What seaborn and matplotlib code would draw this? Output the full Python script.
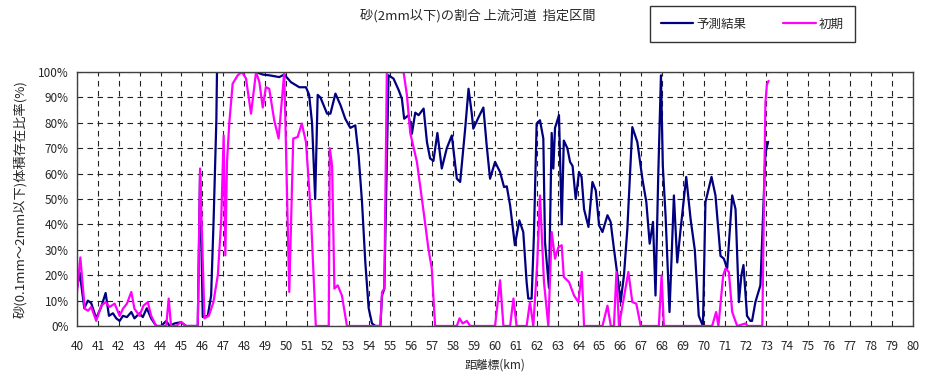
import seaborn as sns
import pandas as pd
import matplotlib.pyplot as plt

# 予測結果 (navy)
pred_km = [40.0, 40.13, 40.35, 40.52, 40.68, 40.92, 41.16, 41.37, 41.53, 41.72, 41.88, 42.04,
           42.2, 42.39, 42.6, 42.75, 42.99, 43.15, 43.34, 43.55, 43.79, 44.03, 44.27, 44.43,
           44.67, 44.98, 45.22, 45.78, 45.89, 46.02, 46.26, 46.42, 46.54, 46.67, 46.7, 48.57,
           48.89, 49.2, 49.68, 49.92, 50.24, 50.64, 50.96, 51.11, 51.25, 51.4, 51.52, 51.65,
           51.97, 52.13, 52.37, 52.61, 52.84, 53.08, 53.32, 53.48, 53.64, 53.8, 53.96, 54.12,
           54.28, 54.52, 54.6, 54.71, 54.91, 55.15, 55.39, 55.55, 55.66, 55.87, 56.03, 56.19,
           56.35, 56.59, 56.75, 56.9, 57.06, 57.25, 57.46, 57.7, 57.94, 58.18, 58.34, 58.58,
           58.74, 58.89, 58.97, 59.21, 59.45, 59.61, 59.77, 60.01, 60.25, 60.44, 60.57, 60.73,
           60.96, 61.17, 61.36, 61.52, 61.6, 61.76, 61.87, 62.0, 62.16, 62.32, 62.4, 62.59,
           62.72, 62.8, 62.88, 63.07, 63.2, 63.3, 63.47, 63.6, 63.72, 63.87, 64.03, 64.15,
           64.27, 64.48, 64.67, 64.83, 64.99, 65.15, 65.39, 65.54, 65.7, 65.91, 66.02, 66.18,
           66.34, 66.58, 66.82, 67.06, 67.25, 67.41, 67.57, 67.69, 67.82, 67.95, 68.04, 68.17,
           68.36, 68.57, 68.73, 68.89, 69.16, 69.37, 69.57, 69.76, 69.96, 70.08, 70.37, 70.56,
           70.8, 70.96, 71.12, 71.36, 71.52, 71.68, 71.8, 71.9, 72.07, 72.23, 72.31, 72.47,
           72.71, 72.95, 73.08]
pred_pct = [15, 21, 7, 10, 9, 3, 7.5, 13, 4, 5, 3, 2,
            4, 3.5, 5.5, 3, 5, 3.5, 7, 3, 0, 0, 2, 0,
            1, 1.5, 0, 0, 60, 3.5, 4, 12, 42, 81, 100, 100,
            99, 98.7, 98, 99, 96, 94, 94, 91, 80, 50, 91, 90,
            83.6, 83.6, 91.5, 87, 81.6, 78, 79, 67, 49, 25, 7, 1,
            0, 0, 12, 14.7, 98.7, 97.4, 93, 89.5, 81.6, 83, 75.7, 84,
            83, 85.6, 72.4, 66, 65, 76, 62, 70, 75, 58, 56.7, 77.7,
            93.4, 84, 77.7, 82, 86, 71, 58, 64.6, 60.6, 54.7, 55, 47.5,
            31.8, 41.6, 37, 17.3, 10.8, 10.8, 35.7, 79.7, 81, 73.8, 33, 15,
            76, 62, 78, 83, 40, 73, 70, 64.6, 63, 50, 60.6, 58.7,
            46, 39, 56.7, 53.4, 39.6, 37, 43.6, 41, 30.4, 17.3, 9.4, 20,
            38, 78.3, 72.4, 58, 48.8, 32.4, 41, 12, 59, 98.7, 63, 43.6,
            5.5, 51.4, 25, 38, 58.7, 42, 30, 4, 0, 48.8, 58.7, 51.4,
            27.6, 26.5, 22.6, 51.4, 46, 9.4, 20, 24, 4, 2, 2, 9.4,
            16, 68, 72.5]

# 初期 (magenta)
init_km = [40.0, 40.16, 40.37, 40.53, 40.68, 40.92, 41.16, 41.37, 41.56, 41.8, 42.04, 42.2,
           42.39, 42.6, 42.75, 42.99, 43.18, 43.39, 43.55, 43.79, 44.27, 44.39, 44.5, 44.75,
           44.98, 45.22, 45.78, 45.89, 46.1, 46.31, 46.53, 46.74, 46.9, 47.02, 47.1, 47.18,
           47.29, 47.45, 47.69, 47.9, 48.09, 48.33, 48.57, 48.73, 48.89, 49.04, 49.2, 49.44,
           49.65, 49.92, 50.16, 50.35, 50.56, 50.76, 50.96, 51.19, 51.43, 52.05, 52.1, 52.21,
           52.32, 52.48, 52.68, 52.92, 54.52, 54.6, 54.71, 54.83, 55.63, 55.79, 55.95, 56.27,
           56.59, 56.82, 56.98, 57.14, 58.18, 58.31, 58.46, 58.66, 58.82, 60.01, 60.25, 60.41,
           60.73, 60.89, 61.04, 61.52, 61.68, 61.84, 62.03, 62.16, 62.35, 62.56, 62.72, 62.88,
           63.04, 63.2, 63.3, 63.55, 63.79, 64.0, 64.16, 64.27, 65.15, 65.39, 65.55, 65.7,
           65.82, 65.94, 66.39, 66.58, 66.77, 66.98, 67.85, 67.98, 68.09, 70.4, 70.59, 70.7,
           70.93, 71.04, 71.2, 71.36, 71.6, 72.0, 72.1, 72.8, 72.95, 73.02, 73.1]
init_pct = [13.4, 27, 6.8, 6, 7.5, 2, 8, 9.4, 7.5, 8.8, 4, 6.8,
            8.8, 13.4, 6.8, 4, 8, 9.4, 4, 0, 0, 10.8, 0, 0,
            1.6, 0, 0, 62, 3, 4, 9.4, 20, 41, 75, 27.8, 64.6,
            80, 95.4, 98.7, 100, 97.4, 83.6, 100, 96, 86, 94, 93.4, 81,
            73.8, 100, 13.4, 73.8, 74.4, 79.7, 72.4, 44.9, 0, 0, 70, 63,
            14.7, 16, 12, 0, 0, 13.4, 14.7, 100, 100, 91, 76, 64.6,
            45, 30.4, 22.6, 0, 0, 3, 1, 2, 0, 0, 18, 0,
            0, 10.8, 0, 0, 9.4, 0, 25, 51.4, 17.3, 0, 37, 26.5,
            31, 31.8, 19.3, 17.3, 12, 9.4, 21.3, 0, 0, 8, 0, 0,
            21.3, 0, 21.3, 9.4, 8.8, 0, 0, 20, 0, 0, 5.5, 0,
            20, 22.6, 21.3, 5.5, 0, 1, 0, 0, 88, 95, 96.5]

x_ticks = list(range(40, 81))
y_ticks = list(range(0, 101, 10))

sns.set_style('white')
plt.rcParams['font.family'] = ['Noto Sans CJK JP', 'DejaVu Sans']

df_pred = pd.DataFrame({'km': pred_km, 'pct': pred_pct})
df_init = pd.DataFrame({'km': init_km, 'pct': init_pct})

fig = plt.figure(figsize=(9.39, 3.75), dpi=100)
ax = fig.add_axes([0.082, 0.1307, 0.89, 0.6773])

sns.lineplot(data=df_pred, x='km', y='pct', ax=ax, color='#000080', linewidth=1.6,
             estimator=None, sort=False, label='予測結果')
sns.lineplot(data=df_init, x='km', y='pct', ax=ax, color='#FF00FF', linewidth=1.6,
             estimator=None, sort=False, label='初期')

ax.set_xlim(40, 80)
ax.set_ylim(0, 100)
ax.set_xticks(x_ticks)
ax.set_xticklabels([str(t) for t in x_ticks], fontsize=8.5)
ax.set_yticks(y_ticks)
ax.set_yticklabels([f'{t}%' for t in y_ticks], fontsize=8.5)
ax.tick_params(axis='x', length=0, pad=10)
ax.tick_params(axis='y', length=0, pad=6)
ax.grid(True, color='#222222', linestyle=(0, (5, 4)), linewidth=0.8)
for s in ax.spines.values():
    s.set_color('#404040')
    s.set_linewidth(1)

ax.set_xlabel('距離標(km)', fontsize=8.5, labelpad=4)
ax.set_ylabel('砂(0.1mm～2mm以下)体積存在比率(%)', fontsize=9.5, labelpad=8)

fig.text(0.509, 0.955, '砂(2mm以下)の割合 上流河道  指定区間', ha='center', va='center', fontsize=9.5)

leg = ax.legend(loc='center', bbox_to_anchor=(0.801, 0.936), bbox_transform=fig.transFigure,
                ncol=2, frameon=True, fancybox=False, fontsize=9, handlelength=2.6,
                columnspacing=3.0, borderpad=0.9, handletextpad=0.2)
leg.get_frame().set_edgecolor('black')
leg.get_frame().set_linewidth(1)

fig.savefig('out.png', dpi=100)
